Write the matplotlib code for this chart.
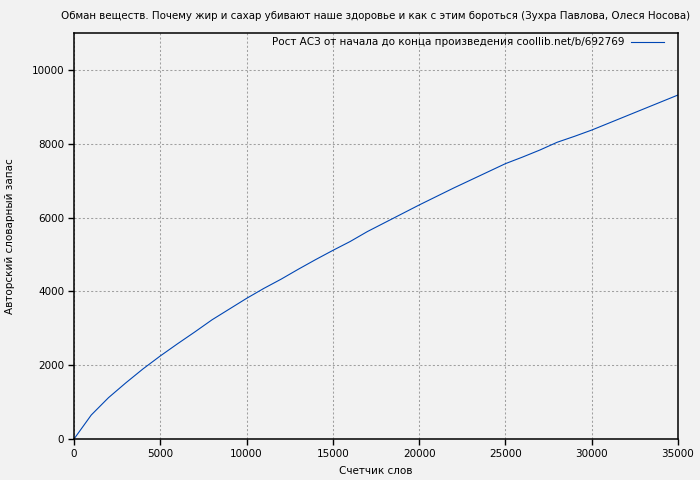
import matplotlib
matplotlib.use("Agg")
import matplotlib.pyplot as plt

# Рост авторского словаря по ходу текста
slova = [0, 1000, 2000, 3000, 4000, 5000, 6000, 7000, 8000, 9000, 10000,
         11000, 12000, 13000, 14000, 15000, 16000, 17000, 18000, 19000, 20000,
         21000, 22000, 23000, 24000, 25000, 26000, 27000, 28000, 29000, 30000,
         31000, 32000, 33000, 34000, 35000]
zapas = [0, 650, 1120, 1520, 1900, 2250, 2580, 2900, 3230, 3520, 3810,
         4080, 4330, 4600, 4860, 5110, 5350, 5620, 5860, 6100, 6340,
         6570, 6800, 7020, 7240, 7460, 7640, 7830, 8040, 8200, 8370,
         8560, 8750, 8940, 9130, 9320]

titulo = "Обман веществ. Почему жир и сахар убивают наше здоровье и как с этим бороться (Зухра Павлова, Олеся Носова)"
legenda = "Рост АСЗ от начала до конца произведения coollib.net/b/692769"

bg = "#f2f2f2"
fig = plt.figure(figsize=(7, 4.8), dpi=100, facecolor=bg)
ax = fig.add_axes([74/700, 41/480, 604/700, 406/480], facecolor=bg)

ax.plot(slova, zapas, color="#0046b4", linewidth=0.8, label=legenda)

ax.set_xlim(0, 35000)
ax.set_ylim(0, 11000)
ax.set_xticks(range(0, 35001, 5000))
ax.set_yticks(range(0, 10001, 2000))
ax.grid(True, color="#a0a0a0", linestyle=(0, (2, 2)), linewidth=0.75)

ax.tick_params(axis="both", direction="out", length=4, width=1, labelsize=7.5,
               color="black", pad=3)
ax.tick_params(top=False, right=False)
for s in ax.spines.values():
    s.set_linewidth(1.1)

ax.set_title(titulo, fontsize=7.4, pad=10)
ax.set_xlabel("Счетчик слов", fontsize=7.5, labelpad=5)
ax.set_ylabel("Авторский словарный запас", fontsize=7.5, labelpad=12)

ax.legend(loc="upper right", bbox_to_anchor=(1 - 10/604, 1), frameon=False,
          fontsize=7.5, markerfirst=False, handlelength=3.2, handletextpad=0.6,
          borderaxespad=0)

fig.savefig("out.png", dpi=100, facecolor=bg)
